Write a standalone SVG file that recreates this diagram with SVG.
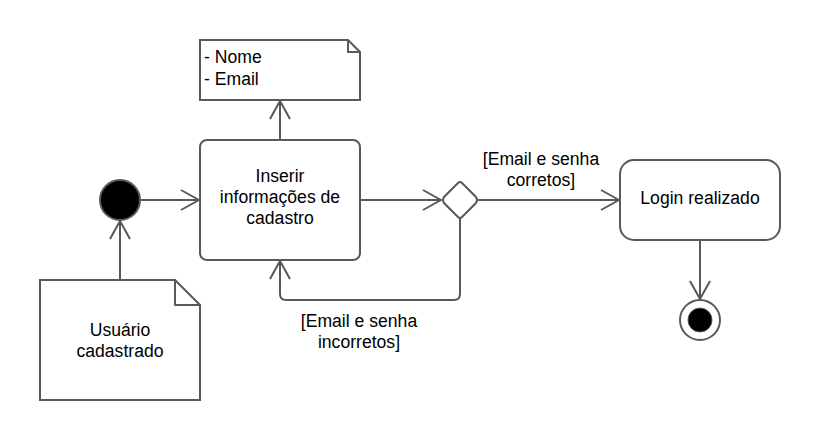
<svg xmlns="http://www.w3.org/2000/svg" width="820" height="441" viewBox="0 0 820 441">
<defs>
<style>
.s{fill:none;stroke:#595959;stroke-width:2;stroke-linejoin:round}
.box{fill:#fff;stroke:#595959;stroke-width:2}
.t{font-family:"Liberation Sans",Arial,sans-serif;font-size:17.6px;fill:#000;text-anchor:middle}
.tl{font-family:"Liberation Sans",Arial,sans-serif;font-size:17.6px;fill:#000}
</style>
<marker id="open" viewBox="0 0 20 22" refX="19" refY="11" markerWidth="20" markerHeight="22" markerUnits="userSpaceOnUse" orient="auto">
<path d="M1,1 L19,11 L1,21" fill="none" stroke="#595959" stroke-width="2"/>
</marker>
</defs>
<rect width="820" height="441" fill="#fff"/>
<g id="connectors">
<path class="s" d="M140,200 H199" marker-end="url(#open)"/>
<path class="s" d="M120,280 V221" marker-end="url(#open)"/>
<path class="s" d="M280,140 V101" marker-end="url(#open)"/>
<path class="s" d="M360,200 H441" marker-end="url(#open)"/>
<path class="s" d="M460,218 V294 Q460,300 454,300 H286 Q280,300 280,294 V261" marker-end="url(#open)"/>
<path class="s" d="M478,200 H619" marker-end="url(#open)"/>
<path class="s" d="M700,240 V299" marker-end="url(#open)"/>
<text class="t" x="359" y="327">[Email e senha</text>
<text class="t" x="359" y="348">incorretos]</text>
<text class="t" x="541" y="165">[Email e senha</text>
<text class="t" x="541" y="186">corretos]</text>
</g>
<g id="note-nome">
<path class="box" d="M200,40 H348 L360,52 V100 H200 Z"/>
<path class="s" d="M348,40 V52 H360"/>
<text class="tl" x="204" y="63">- Nome</text>
<text class="tl" x="204" y="85">- Email</text>
</g>
<g id="start">
<circle cx="120" cy="200" r="20" fill="#000" stroke="#595959" stroke-width="2"/>
</g>
<g id="note-usuario">
<path class="box" d="M40,280 H175 L200,305 V400 H40 Z"/>
<path class="s" d="M175,280 V305 H200"/>
<text class="t" x="120" y="336">Usuário</text>
<text class="t" x="120" y="357">cadastrado</text>
</g>
<g id="inserir">
<rect class="box" x="200" y="140" width="160" height="120" rx="7"/>
<text class="t" x="280" y="182">Inserir</text>
<text class="t" x="280" y="203">informações de</text>
<text class="t" x="280" y="224">cadastro</text>
</g>
<g id="decision">
<path class="box" d="M458,183 Q460,181 462,183 L476,197 Q478,200 476,203 L462,217 Q460,219 458,217 L444,203 Q442,200 444,197 Z"/>
</g>
<g id="login">
<rect class="box" x="620" y="160" width="160" height="80" rx="14"/>
<text class="t" x="700" y="204">Login realizado</text>
</g>
<g id="end">
<circle cx="700" cy="320" r="20" fill="#fff" stroke="#595959" stroke-width="2"/>
<circle cx="700" cy="320" r="12" fill="#000" stroke="#595959" stroke-width="1"/>
</g>
</svg>
